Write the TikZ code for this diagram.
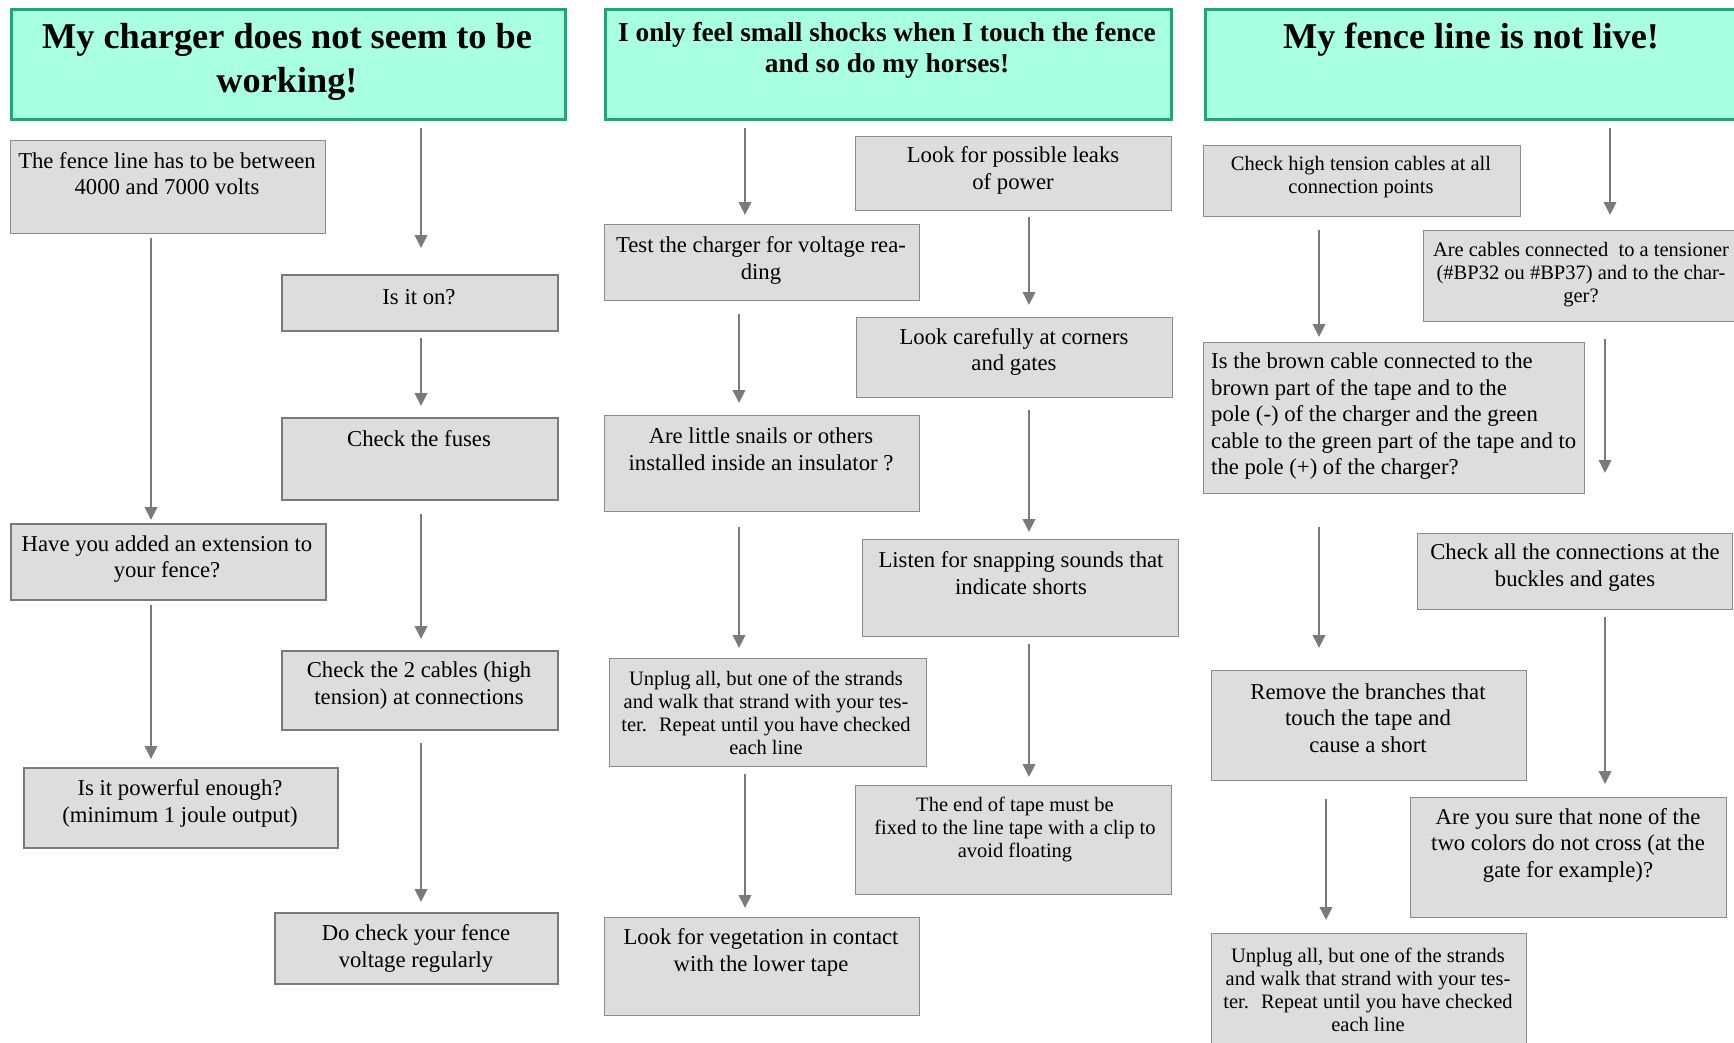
\documentclass[tikz,border=0pt]{standalone}
\usepackage{fontspec}
\setmainfont{Liberation Serif}
\usetikzlibrary{arrows.meta,calc}
\definecolor{tfill}{HTML}{A8FFE2}
\definecolor{tdraw}{HTML}{1AA877}
\definecolor{bfill}{HTML}{DDDDDD}
\definecolor{bdraw}{HTML}{8A8A8A}
\definecolor{bdrawk}{HTML}{7A7A7A}
\definecolor{adraw}{HTML}{7A7A7A}
\begin{document}
\begin{tikzpicture}[x=1pt,y=-1pt,
 titlebox/.style={draw=tdraw, fill=tfill, line width=2.5pt, anchor=north west, inner sep=0pt},
 box/.style={draw=bdraw, fill=bfill, line width=1.3pt, anchor=north west, inner sep=0pt},
 thickbox/.style={box, draw=bdrawk, line width=2.4pt},
 txt/.style={align=center, inner sep=0pt, font=\fontsize{22.7}{26.5}\selectfont},
 stxt/.style={align=center, inner sep=0pt, font=\fontsize{20.5}{23}\selectfont},
 ttxt/.style={align=center, inner sep=0pt, font=\bfseries\fontsize{36.3}{44}\selectfont},
 mtxt/.style={align=center, inner sep=0pt, font=\bfseries\fontsize{27.3}{31}\selectfont},
 arr/.style={draw=adraw, line width=2pt, -{Triangle[width=12.5pt,length=13pt]}},
]
\useasboundingbox (0,0) rectangle (1734,1042);
\fill[white] (0,0) rectangle (1734,1042);

% ---------- titles
\node[titlebox, minimum width=554pt, minimum height=110pt] (t1) at (10,8) {};
\node[ttxt] (t1x) at (287,62) {My charger does not seem to be\\working!};
\node[titlebox, minimum width=566pt, minimum height=110pt] (t2) at (604,8) {};
\node[mtxt] (t2x) at (887,50) {I only feel small shocks when I touch the fence\\and so do my horses!};
\node[titlebox, minimum width=540pt, minimum height=110pt] (t3) at (1204,8) {};
\node[ttxt] (t3x) at (1471,40) {My fence line is not live!};

% ---------- column 1
\node[box, minimum width=315pt, minimum height=93pt] (fence) at (10,140) {};
\node[txt] (fencex) at (167,173.5) {The fence line has to be between\\4000 and 7000 volts};
\node[thickbox, minimum width=276pt, minimum height=56pt] (ison) at (281,274) {};
\node[txt] (isonx) at (419,297) {Is it on?};
\node[thickbox, minimum width=276pt, minimum height=82pt] (fuses) at (281,417) {};
\node[txt] (fusesx) at (419,438.5) {Check the fuses};
\node[thickbox, minimum width=276pt, minimum height=79pt] (cables) at (281,650) {};
\node[txt] (cablesx) at (419,685.5) {Check the 2 cables (high\\tension) at connections};
\node[thickbox, minimum width=283pt, minimum height=71pt] (docheck) at (274,912) {};
\node[txt] (docheckx) at (416,948.5) {Do check your fence\\voltage regularly};
\node[thickbox, minimum width=315pt, minimum height=76pt] (added) at (10,523) {};
\node[txt] (addedx) at (167,559) {Have you added an extension to\\your fence?};
\node[thickbox, minimum width=314pt, minimum height=80pt] (powerful) at (23,767) {};
\node[txt] (powerfulx) at (180,803.5) {Is it powerful enough?\\(minimum 1 joule output)};

% ---------- column 2
\node[box, minimum width=316pt, minimum height=74pt] (leaks) at (855,136) {};
\node[txt] (leaksx) at (1013,170.5) {Look for possible leaks\\of power};
\node[box, minimum width=315pt, minimum height=76pt] (test) at (604,224) {};
\node[txt] (testx) at (761,260.5) {Test the charger for voltage rea-\\ding};
\node[box, minimum width=316pt, minimum height=80pt] (careful) at (856,317) {};
\node[txt] (carefulx) at (1014,352) {Look carefully at corners\\and gates};
\node[box, minimum width=315pt, minimum height=96pt] (snails) at (604,415) {};
\node[txt] (snailsx) at (761,449.5) {Are little snails or others\\installed inside an insulator ?};
\node[box, minimum width=316pt, minimum height=97pt] (listen) at (862,539) {};
\node[txt] (listenx) at (1021,573) {Listen for snapping sounds that\\indicate shorts};
\node[box, minimum width=317pt, minimum height=108pt] (unplugA) at (609,658) {};
\node[stxt] (unplugAx) at (766,713) {Unplug all, but one of the strands\\and walk that strand with your tes-\\ter.~ Repeat until you have checked\\each line};
\node[box, minimum width=316pt, minimum height=109pt] (endtape) at (855,785) {};
\node[stxt] (endtapex) at (1015,829.5) {The end of tape must be\\fixed to the line tape with a clip to\\avoid floating};
\node[box, minimum width=315pt, minimum height=98pt] (veg) at (604,917) {};
\node[txt] (vegx) at (761,952.5) {Look for vegetation in contact\\with the lower tape};

% ---------- column 3
\node[box, minimum width=317pt, minimum height=71pt] (high) at (1203,145) {};
\node[stxt] (highx) at (1361,177.5) {Check high tension cables at all\\connection points};
\node[box, minimum width=318pt, minimum height=91pt] (arec) at (1423,230) {};
\node[stxt] (arecx) at (1581,275) {Are cables connected~ to a tensioner\\(\#BP32 ou \#BP37) and to the char-\\ger?};
\node[box, minimum width=381pt, minimum height=151pt] (brown) at (1203,342) {};
\node[txt, align=left, anchor=west] (brownx) at (1211,416.5) {Is the brown cable connected to the\\brown part of the tape and to the\\pole (-) of the charger and the green\\cable to the green part of the tape and to\\the pole (+) of the charger?};
\node[box, minimum width=315pt, minimum height=76pt] (checkall) at (1417,533) {};
\node[txt] (checkallx) at (1575,567.5) {Check all the connections at the\\buckles and gates};
\node[box, minimum width=315pt, minimum height=110pt] (remove) at (1211,670) {};
\node[txt] (removex) at (1368,718) {Remove the branches that\\touch the tape and\\cause a short};
\node[box, minimum width=316pt, minimum height=120pt] (sure) at (1410,797) {};
\node[txt] (surex) at (1568,845) {Are you sure that none of the\\two colors do not cross (at the\\gate for example)?};
\node[box, minimum width=315pt, minimum height=130pt] (unplugB) at (1211,933) {};
\node[stxt] (unplugBx) at (1368,990) {Unplug all, but one of the strands\\and walk that strand with your tes-\\ter.~ Repeat until you have checked\\each line};

% ---------- arrow columns
\coordinate (xa) at (421,0);
\coordinate (xb) at (151,0);
\coordinate (xc) at (745,0);
\coordinate (xd) at (739,0);
\coordinate (xe) at (1029,0);
\coordinate (xf) at (1319,0);
\coordinate (xg) at (1326,0);
\coordinate (xh) at (1610,0);
\coordinate (xi) at (1605,0);

% ---------- arrows column 1
\draw[arr, shorten <=7pt, shorten >=26pt] (t1.south -| xa) -- (ison.north -| xa);
\draw[arr, shorten <=6pt, shorten >=11pt] (ison.south -| xa) -- (fuses.north -| xa);
\draw[arr, shorten <=13pt, shorten >=11pt] (fuses.south -| xa) -- (cables.north -| xa);
\draw[arr, shorten <=12pt, shorten >=10pt] (cables.south -| xa) -- (docheck.north -| xa);
\draw[arr, shorten <=4pt, shorten >=3pt] (fence.south -| xb) -- (added.north -| xb);
\draw[arr, shorten <=4pt, shorten >=8pt] (added.south -| xb) -- (powerful.north -| xb);

% ---------- arrows column 2
\draw[arr, shorten <=7pt, shorten >=9pt] (t2.south -| xc) -- (test.north -| xc);
\draw[arr, shorten <=6pt, shorten >=12pt] (leaks.south -| xe) -- (careful.north -| xe);
\draw[arr, shorten <=13pt, shorten >=12pt] (test.south -| xd) -- (snails.north -| xd);
\draw[arr, shorten <=12pt, shorten >=7pt] (careful.south -| xe) -- (listen.north -| xe);
\draw[arr, shorten <=15pt, shorten >=10pt] (snails.south -| xd) -- (unplugA.north -| xd);
\draw[arr, shorten <=7pt, shorten >=8pt] (listen.south -| xe) -- (endtape.north -| xe);
\draw[arr, shorten <=7pt, shorten >=9pt] (unplugA.south -| xc) -- (veg.north -| xc);

% ---------- arrows column 3
\draw[arr, shorten <=7pt, shorten >=15pt] (t3.south -| xh) -- (arec.north -| xh);
\draw[arr, shorten <=13pt, shorten >=5pt] (high.south -| xf) -- (brown.north -| xf);
\draw[arr, shorten <=17pt, shorten >=60pt] (arec.south -| xi) -- (checkall.north -| xi);
\draw[arr, shorten <=33pt, shorten >=22pt] (brown.south -| xf) -- (remove.north -| xf);
\draw[arr, shorten <=7pt, shorten >=13pt] (checkall.south -| xi) -- (sure.north -| xi);
\draw[arr, shorten <=18pt, shorten >=13pt] (remove.south -| xg) -- (unplugB.north -| xg);
\end{tikzpicture}
\end{document}
